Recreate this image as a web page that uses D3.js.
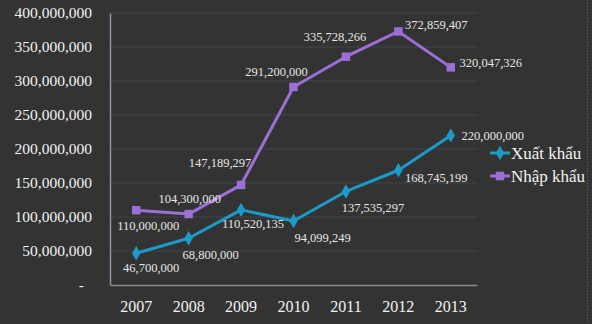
<!DOCTYPE html>
<html>
<head>
<meta charset="utf-8">
<script src="https://cdn.jsdelivr.net/npm/d3@7"></script>
<style>
  body { margin: 0; background: #333333; }
  svg { display: block; }
</style>
</head>
<body>
<div id="chart"></div>
<script>
// years on the x axis
var years = ["2007", "2008", "2009", "2010", "2011", "2012", "2013"];
// export / import values
var xuatKhau = [46700000, 68800000, 110520135, 94099249, 137535297, 168745199, 220000000];
var nhapKhau = [110000000, 104300000, 147189297, 291200000, 335728266, 372859407, 320047326];
var yTicks = [0, 50000000, 100000000, 150000000, 200000000, 250000000, 300000000, 350000000, 400000000];
var seriesNames = ["Xuất khẩu", "Nhập khẩu"];

// label nudges (dx, dy) relative to each marker
var xuatOffsets = [[15, 14], [22, 16], [12, 14], [29, 17], [27, 16], [38, 7], [42, 0]];
var nhapOffsets = [[12, 15], [1, -15], [-21, -22], [-17, -15], [-11, -20], [38, -7], [40, -5]];

var serif = "'Liberation Serif', 'Times New Roman', serif";

function createChart() {
  var width = 592, height = 324;
  var margin = {top: 13, right: 115, bottom: 39, left: 110};

  var svg = d3.select("#chart").append("svg")
      .attr("width", width)
      .attr("height", height)
      .style("font-family", serif);

  svg.append("rect")
      .attr("width", width).attr("height", height)
      .attr("fill", "#333333");

  var x = d3.scaleBand()
      .domain(years)
      .range([margin.left, width - margin.right]);

  var y = d3.scaleLinear()
      .domain([0, 400000000])
      .range([height - margin.bottom, margin.top]);

  var xc = d => x(d) + x.bandwidth() / 2;

  // gridlines
  svg.append("g")
      .selectAll("line")
      .data(yTicks.slice(1))
      .enter().append("line")
      .attr("x1", margin.left).attr("x2", width - margin.right)
      .attr("y1", d => y(d)).attr("y2", d => y(d))
      .attr("stroke", "#3d4750")
      .attr("stroke-width", 1);

  // y axis
  var yAxis = svg.append("g")
      .attr("transform", `translate(${margin.left},0)`)
      .call(d3.axisLeft(y).tickValues(yTicks).tickSize(0).tickPadding(18)
        .tickFormat(d => d === 0 ? "-" : d3.format(",")(d)));
  yAxis.attr("font-family", serif);
  yAxis.select(".domain").attr("stroke", "#8796a4").attr("stroke-width", 1.5);
  yAxis.selectAll("text")
      .attr("fill", "#f2f2f2")
      .style("font-size", "15.5px")
      .attr("dx", d => d === 0 ? "-8" : "0");

  // x axis
  var xAxis = svg.append("g")
      .attr("transform", `translate(0,${height - margin.bottom})`)
      .call(d3.axisBottom(x).tickSize(0).tickPadding(16));
  xAxis.attr("font-family", serif);
  xAxis.select(".domain").attr("stroke", "#8a8a8a").attr("stroke-width", 1.5);
  xAxis.selectAll("text")
      .attr("fill", "#f2f2f2")
      .style("font-size", "16px");

  var line = d3.line()
      .x((d, i) => xc(years[i]))
      .y(d => y(d));

  var series = [
    {name: seriesNames[0], values: xuatKhau, color: "#1d9ac8", marker: d3.symbolDiamond, size: 60, offsets: xuatOffsets},
    {name: seriesNames[1], values: nhapKhau, color: "#9a6fd6", marker: d3.symbolSquare, size: 72, offsets: nhapOffsets}
  ];

  series.forEach(function(s) {
    svg.append("path")
        .attr("d", line(s.values))
        .attr("fill", "none")
        .attr("stroke", s.color)
        .attr("stroke-width", 3)
        .attr("stroke-linejoin", "round");

    svg.append("g")
        .selectAll("path")
        .data(s.values)
        .enter().append("path")
        .attr("d", d3.symbol().type(s.marker).size(s.size))
        .attr("transform", (d, i) => `translate(${xc(years[i])},${y(d)})`)
        .attr("fill", s.color);

    svg.append("g")
        .selectAll("text")
        .data(s.values)
        .enter().append("text")
        .attr("x", (d, i) => xc(years[i]) + s.offsets[i][0])
        .attr("y", (d, i) => y(d) + s.offsets[i][1])
        .attr("dy", "0.35em")
        .attr("text-anchor", "middle")
        .attr("fill", "#e6e6e6")
        .style("font-size", "12.5px")
        .text(d => d3.format(",")(d));
  });

  // legend
  var legend = svg.append("g")
      .selectAll("g")
      .data(series)
      .enter().append("g")
      .attr("transform", (d, i) => `translate(490,${153 + i * 23})`);
  legend.append("line")
      .attr("x1", 0).attr("x2", 20)
      .attr("stroke", d => d.color)
      .attr("stroke-width", 3);
  legend.append("path")
      .attr("d", d => d3.symbol().type(d.marker).size(d.size)())
      .attr("transform", "translate(10,0)")
      .attr("fill", d => d.color);
  legend.append("text")
      .attr("x", 21)
      .attr("dy", "0.35em")
      .attr("fill", "#f2f2f2")
      .style("font-size", "17px")
      .text(d => d.name);

  // dotted frame edge on the right
  svg.append("line")
      .attr("x1", 587.5).attr("x2", 587.5)
      .attr("y1", 0).attr("y2", height)
      .attr("stroke", "#4a6aa0")
      .attr("stroke-dasharray", "1,2");
}

window.onload = createChart;
</script>
</body>
</html>
